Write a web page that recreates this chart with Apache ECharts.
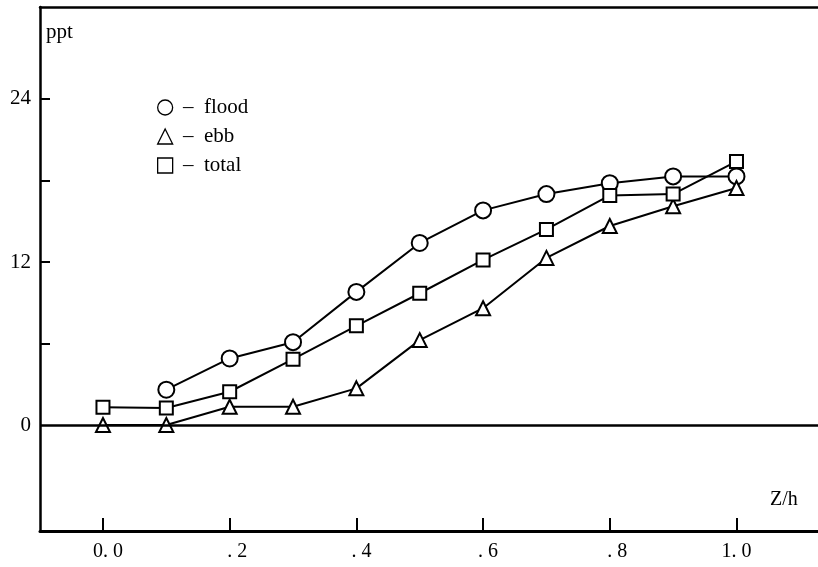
<!DOCTYPE html>
<html>
<head>
<meta charset="utf-8">
<script src="https://cdn.jsdelivr.net/npm/echarts@6/dist/echarts.min.js"></script>
<style>html,body{margin:0;padding:0;background:#fff}#c{width:818px;height:567px}</style>
</head>
<body>
<div id="c"></div>
<script>
var depth = [0.0, 0.1, 0.2, 0.3, 0.4, 0.5, 0.6, 0.7, 0.8, 0.9, 1.0];
var flood = [null, 2.6, 4.9, 6.1, 9.8, 13.4, 15.8, 17.0, 17.8, 18.3, 18.3];
var ebb = [0.0, 0.0, 1.35, 1.35, 2.7, 6.25, 8.6, 12.3, 14.65, 16.1, 17.45];
var total = [1.3, 1.25, 2.45, 4.85, 7.3, 9.7, 12.15, 14.4, 16.9, 17.0, 19.4];
var xTicks = [0, 0.2, 0.4, 0.6, 0.8, 1.0];
var xTickLabels = ['\u00a0\u00a00. 0', '\u00a0\u00a0\u00a0. 2', '\u00a0\u00a0. 4', '\u00a0\u00a0. 6', '\u00a0\u00a0\u00a0. 8', '1. 0'];
var yTicks = [6, 12, 18, 24];
var yLabels = [0, 12, 24];

function pairs(vals) {
  var out = [];
  for (var i = 0; i < depth.length; i++) {
    if (vals[i] !== null) out.push([depth[i], vals[i]]);
  }
  return out;
}

var font = 'Liberation Serif';
var chart = echarts.init(document.getElementById('c'), null, {renderer: 'canvas'});
var lineStyle = {color: '#000', width: 2};
var itemStyle = {color: '#fff', borderColor: '#000', borderWidth: 2};
var legendItem = {color: '#fff', borderColor: '#000', borderWidth: 1.3};
var xMin = -0.0994, xMax = 1.1413;

chart.setOption({
  animation: false,
  backgroundColor: '#fff',
  grid: {left: 40, right: -8, top: 7, bottom: 36, show: false, outerBoundsMode: 'none', containLabel: false},
  legend: {
    orient: 'vertical', left: 157, top: 97, padding: 0, itemGap: 8, itemWidth: 15, itemHeight: 15,
    textStyle: {fontFamily: font, fontSize: 21, color: '#000'},
    formatter: function (n) { return ' \u2013\u2002' + n; },
    data: [
      {name: 'flood', icon: 'circle', itemStyle: legendItem},
      {name: 'ebb', icon: 'triangle', itemStyle: legendItem},
      {name: 'total', icon: 'rect', itemStyle: legendItem}
    ]
  },
  xAxis: [{
    type: 'value', min: xMin, max: xMax, position: 'bottom',
    axisLine: {show: true, onZero: false, lineStyle: {color: '#000', width: 3}},
    axisTick: {show: true, inside: true, length: 13, customValues: xTicks, lineStyle: {color: '#000', width: 2}},
    axisLabel: {customValues: xTicks, margin: 11, fontFamily: font, fontSize: 20, color: '#000',
      formatter: function (v) { var i = xTicks.indexOf(v); return i >= 0 ? xTickLabels[i] : ''; }},
    splitLine: {show: false}
  }, {
    type: 'value', min: xMin, max: xMax, position: 'top',
    axisLine: {show: true, onZero: false, lineStyle: {color: '#000', width: 2.5}},
    axisTick: {show: false}, axisLabel: {show: false}, splitLine: {show: false}
  }],
  yAxis: {
    type: 'value', min: -7.8, max: 30.77,
    axisLine: {show: true, onZero: false, lineStyle: {color: '#000', width: 2.5}},
    axisTick: {show: true, inside: true, length: 10, customValues: yTicks, lineStyle: {color: '#000', width: 2}},
    axisLabel: {customValues: yLabels, margin: 9, fontFamily: font, fontSize: 21, color: '#000'},
    splitLine: {show: false}
  },
  graphic: [
    {type: 'text', left: 46, top: 22, style: {text: 'ppt', fontFamily: font, fontSize: 21, fill: '#000'}},
    {type: 'text', left: 770, top: 490, style: {text: 'Z/h', fontFamily: font, fontSize: 20, fill: '#000'}}
  ],
  series: [
    {name: 'flood', type: 'line', data: pairs(flood), symbol: 'circle', symbolSize: 16,
      lineStyle: lineStyle, itemStyle: itemStyle, z: 3,
      markLine: {silent: true, symbol: ['none', 'none'], label: {show: false},
        lineStyle: {color: '#000', width: 2.5, type: 'solid'}, data: [{yAxis: 0}]}},
    {name: 'ebb', type: 'line', data: pairs(ebb), symbol: 'triangle', symbolSize: 14,
      lineStyle: lineStyle, itemStyle: itemStyle, z: 4},
    {name: 'total', type: 'line', data: pairs(total), symbol: 'rect', symbolSize: 13,
      lineStyle: lineStyle, itemStyle: itemStyle, z: 5}
  ]
});
</script>
</body>
</html>
